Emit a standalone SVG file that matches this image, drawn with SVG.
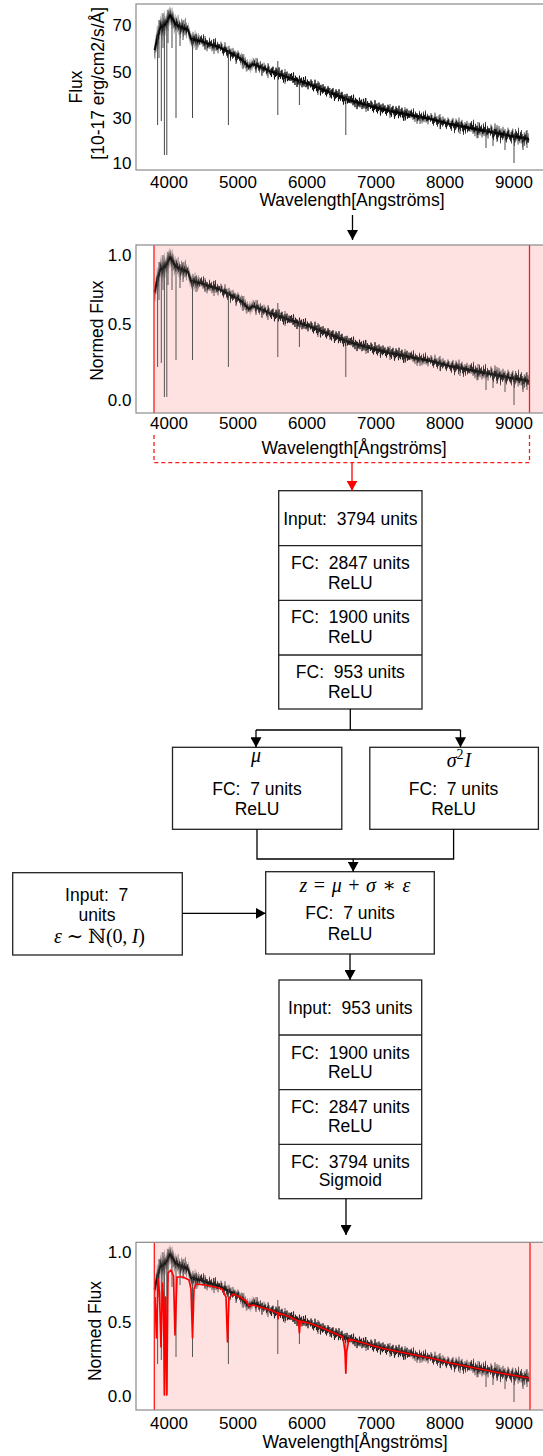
<svg xmlns="http://www.w3.org/2000/svg" xmlns:xlink="http://www.w3.org/1999/xlink" width="543" height="1456" viewBox="0 0 543 1456">
<style>
text{font-family:"Liberation Sans",Arial,sans-serif;fill:#000}
.tk{font-size:17px}
.ax{font-size:17.5px}
.bx{font-size:17.5px;text-anchor:middle}
.m{font-family:"Liberation Serif","DejaVu Serif",serif;font-size:20px;text-anchor:middle}
.i{font-style:italic}
.frame{fill:none;stroke:#8a8a8a;stroke-width:1.2}
.pink{fill:#fee2e2}
.rl{stroke:#ff1a1a;stroke-width:1.3}
.box{fill:#fff;stroke:#222;stroke-width:1.3}
.div{stroke:#222;stroke-width:1.3}
.con{fill:none;stroke:#000;stroke-width:1.3}
.core{fill:none;stroke:#111;stroke-width:1.8;stroke-linejoin:round}
.zz use{fill:none;stroke:#000;stroke-width:0.7;stroke-opacity:.9;vector-effect:non-scaling-stroke}
.ln{fill:none;stroke:#333;stroke-width:0.9}
.sp{fill:none;stroke:#222;stroke-width:0.8}
.red{fill:none;stroke:#ff0000;stroke-width:1.7;stroke-linejoin:round}
</style>
<defs>
<marker id="ah" viewBox="0 0 10 11" markerWidth="10" markerHeight="11" refX="10" refY="5.5" orient="auto" markerUnits="userSpaceOnUse"><path d="M0,0 L10,5.5 L0,11 z" fill="#000"/></marker>
<marker id="ahr" viewBox="0 0 10 11" markerWidth="10" markerHeight="11" refX="10" refY="5.5" orient="auto" markerUnits="userSpaceOnUse"><path d="M0,0 L10,5.5 L0,11 z" fill="#ff0000"/></marker>
<path id="sa" d="M0,0 0.5,3 1,-2 1.5,4 2,-3 2.5,1 3,-4 3.5,2 4,-1 4.5,5 5,-2 5.5,3 6,-4 6.5,2 7,-3 7.5,1 8,-2 8.5,4 9,-5 9.5,2 10,-1 10.5,3 11,-3 11.5,1 12,-4 12.5,3 13,-2 13.5,5 14,-1 14.5,2 15,-3 15.5,4 16,-2 16.5,1 17,-4 17.5,3 18,-1 18.5,2 19,-3 19.5,2 20,0"/>
<path id="sb" d="M0,0 0.5,-3 1,2 1.5,-4 2,1 2.5,-2 3,3 3.5,-5 4,2 4.5,-1 5,4 5.5,-3 6,1 6.5,-2 7,5 7.5,-2 8,3 8.5,-1 9,2 9.5,-4 10,3 10.5,-2 11,1 11.5,-3 12,4 12.5,-1 13,2 13.5,-4 14,3 14.5,-2 15,1 15.5,-5 16,3 16.5,-1 17,2 17.5,-3 18,4 18.5,-2 19,1 19.5,-2 20,0"/>
<path id="sc" d="M0,0 0.5,2 1,-4 1.5,1 2,-3 2.5,3 3,-1 3.5,4 4,-2 4.5,2 5,-5 5.5,1 6,-2 6.5,3 7,-3 7.5,4 8,-1 8.5,2 9,-4 9.5,1 10,-2 10.5,5 11,-3 11.5,2 12,-1 12.5,3 13,-4 13.5,2 14,-2 14.5,1 15,-3 15.5,3 16,-1 16.5,4 17,-2 17.5,2 18,-4 18.5,1 19,-3 19.5,2 20,0"/>
<path id="cont" d="M154.5,292 L160,270 L166,266 L170,257 L176,267 L188,272 L191,281 L200,283 L220,289.5 L240,300 L249,309 L253,306 L270,313 L290,320 L310,326.5 L330,334.4 L350,342.4 L370,348 L390,352.8 L410,357 L430,360.8 L450,366 L470,370 L490,373.8 L510,377.7 L529,381"/>
<path id="lines" d="M157.6,278 V367 M161.3,270 V363 M164.4,268 V397 M166.8,265 V397 M176,267 V360 M192.5,281 V360 M228.4,292 V367 M277.8,303 V357 M299.4,320 V347 M345.8,338 V377 M514,376 V405 M486,372 V390 M493,374 V388 M505,375 V392 M523,378 V392 M172,262 V290 M180,268 V288 M236,294 V306 M262,306 V318 M330,330 V340 M420,356 V366 M460,364 V376"/>
<path id="spikes" d="M205,278 V292 M214,281 V296 M243,296 V311 M256,300 V315 M268,305 V320 M285,311 V326 M318,323 V337 M366,340 V354 M390,346 V360 M405,349 V363 M440,356 V371 M478,364 V380 M497,367 V384 M527,372 V390 M159,262 V300 M163,255 V290 M168,252 V285 M183,262 V282 M196,276 V292"/>
<g id="spec">
<use xlink:href="#cont" class="core"/>
<g class="zz">
<use xlink:href="#sa" transform="matrix(0.275,-1.1,0,2.8,154.5,292)"/>
<use xlink:href="#sb" transform="matrix(0.3,-0.2,0,2.8,160,270)"/>
<use xlink:href="#sc" transform="matrix(0.2,-0.45,0,2.5,166,266)"/>
<use xlink:href="#sa" transform="matrix(0.3,0.5,0,2.4,170,257)"/>
<use xlink:href="#sb" transform="matrix(0.6,0.25,0,2.2,176,267)"/>
<use xlink:href="#sc" transform="matrix(0.15,0.45,0,1.9,188,272)"/>
<use xlink:href="#sa" transform="matrix(0.45,0.1,0,1.9,191,281)"/>
<use xlink:href="#sb" transform="matrix(1,0.325,0,1.6,200,283)"/>
<use xlink:href="#sc" transform="matrix(1,0.525,0,1.6,220,289.5)"/>
<use xlink:href="#sa" transform="matrix(0.45,0.45,0,1.6,240,300)"/>
<use xlink:href="#sb" transform="matrix(0.2,-0.15,0,1.5,249,309)"/>
<use xlink:href="#sc" transform="matrix(0.85,0.35,0,1.5,253,306)"/>
<use xlink:href="#sa" transform="matrix(1,0.35,0,1.35,270,313)"/>
<use xlink:href="#sb" transform="matrix(1,0.325,0,1.35,290,320)"/>
<use xlink:href="#sc" transform="matrix(1,0.395,0,1.35,310,326.5)"/>
<use xlink:href="#sa" transform="matrix(1,0.4,0,1.35,330,334.4)"/>
<use xlink:href="#sb" transform="matrix(1,0.28,0,1.35,350,342.4)"/>
<use xlink:href="#sc" transform="matrix(1,0.24,0,1.4,370,348)"/>
<use xlink:href="#sa" transform="matrix(1,0.21,0,1.4,390,352.8)"/>
<use xlink:href="#sb" transform="matrix(1,0.19,0,1.5,410,357)"/>
<use xlink:href="#sc" transform="matrix(1,0.26,0,1.5,430,360.8)"/>
<use xlink:href="#sa" transform="matrix(1,0.2,0,1.65,450,366)"/>
<use xlink:href="#sb" transform="matrix(1,0.19,0,1.8,470,370)"/>
<use xlink:href="#sc" transform="matrix(1,0.195,0,1.9,490,373.8)"/>
<use xlink:href="#sa" transform="matrix(0.95,0.165,0,1.9,510,377.7)"/>
</g>
<use xlink:href="#lines" class="ln"/>
<use xlink:href="#spikes" class="sp"/>
</g>
</defs>

<!-- Plot 1: raw flux -->
<g id="plot1">
<use xlink:href="#spec" transform="translate(0,-242)"/>
<rect class="frame" x="136" y="4" width="420" height="166"/>
<g class="tk" text-anchor="end">
<text x="131.5" y="31">70</text><text x="131.5" y="77.7">50</text><text x="131.5" y="123.7">30</text><text x="131.5" y="168.7">10</text>
</g>
<g class="tk" text-anchor="middle">
<text x="169" y="188">4000</text><text x="238" y="188">5000</text><text x="307" y="188">6000</text><text x="376" y="188">7000</text><text x="445" y="188">8000</text><text x="514" y="188">9000</text>
</g>
<text class="ax" x="352" y="206" text-anchor="middle">Wavelength[Angströms]</text>
<text class="ax" transform="translate(81.5,87) rotate(-90)" text-anchor="middle">Flux</text>
<text class="ax" transform="translate(104,83.3) rotate(-90)" text-anchor="middle">[10-17 erg/cm2/s/Å]</text>
</g>

<!-- Plot 2: normalised -->
<g id="plot2">
<rect class="pink" x="154" y="245" width="402" height="168"/>
<use xlink:href="#spec" opacity="0.9"/>
<line class="rl" x1="154" y1="245" x2="154" y2="413"/>
<line class="rl" x1="529.5" y1="245" x2="529.5" y2="413"/>
<rect class="frame" x="136" y="245" width="420" height="168"/>
<g class="tk" text-anchor="end">
<text x="131.5" y="261">1.0</text><text x="131.5" y="330.3">0.5</text><text x="131.5" y="406">0.0</text>
</g>
<g class="tk" text-anchor="middle">
<text x="169" y="429.3">4000</text><text x="238" y="429.3">5000</text><text x="307" y="429.3">6000</text><text x="376" y="429.3">7000</text><text x="445" y="429.3">8000</text><text x="514" y="429.3">9000</text>
</g>
<text class="ax" x="354" y="454.3" text-anchor="middle">Wavelength[Ångströms]</text>
<text class="ax" transform="translate(103,330.7) rotate(-90)" text-anchor="middle">Normed Flux</text>
</g>

<!-- Encoder -->
<g id="encoder">
<rect class="box" x="278.7" y="490.7" width="143.3" height="218.3"/>
<line class="div" x1="278.7" y1="545.7" x2="422" y2="545.7"/>
<line class="div" x1="278.7" y1="600.3" x2="422" y2="600.3"/>
<line class="div" x1="278.7" y1="655" x2="422" y2="655"/>
<text class="bx" x="350.3" y="524.5" xml:space="preserve">Input:  3794 units</text>
<text class="bx" x="350.3" y="568.9" xml:space="preserve">FC:  2847 units</text>
<text class="bx" x="350.3" y="588.9">ReLU</text>
<text class="bx" x="350.3" y="623.2" xml:space="preserve">FC:  1900 units</text>
<text class="bx" x="350.3" y="642.9">ReLU</text>
<text class="bx" x="350.3" y="677.9" xml:space="preserve">FC:  953 units</text>
<text class="bx" x="350.3" y="697.9">ReLU</text>
</g>

<g id="mu">
<rect class="box" x="172.5" y="747.3" width="169.3" height="82"/>
<text class="m i" x="256" y="762">μ</text>
<text class="bx" x="257" y="794.5" xml:space="preserve">FC:  7 units</text>
<text class="bx" x="257" y="815.2">ReLU</text>
</g>

<g id="sigma">
<rect class="box" x="369.8" y="747.3" width="168.6" height="82"/>
<text class="m" x="459" y="767"><tspan class="i">σ</tspan><tspan font-size="14" dy="-8">2</tspan><tspan class="i" dy="8" dx="1">I</tspan></text>
<text class="bx" x="453.6" y="794.5" xml:space="preserve">FC:  7 units</text>
<text class="bx" x="453.6" y="815.2">ReLU</text>
</g>

<g id="noise">
<rect class="box" x="12.7" y="872.7" width="169.6" height="82.3"/>
<text class="bx" x="96.7" y="901.2" xml:space="preserve">Input:  7</text>
<text class="bx" x="97" y="920.5">units</text>
<text class="m" x="99.5" y="943" textLength="91" lengthAdjust="spacing"><tspan class="i">ε</tspan> ∼ ℕ(0, <tspan class="i">I</tspan>)</text>
</g>

<g id="latent">
<rect class="box" x="265.7" y="871.7" width="168.6" height="82.3"/>
<text class="m" x="355" y="891.5" textLength="111" lengthAdjust="spacing"><tspan class="i">z</tspan> = <tspan class="i">μ</tspan> + <tspan class="i">σ</tspan> ∗ <tspan class="i">ε</tspan></text>
<text class="bx" x="350" y="918.9" xml:space="preserve">FC:  7 units</text>
<text class="bx" x="350" y="939.5">ReLU</text>
</g>

<!-- Decoder -->
<g id="decoder">
<rect class="box" x="279" y="980" width="142.7" height="218.7"/>
<line class="div" x1="279" y1="1035" x2="421.7" y2="1035"/>
<line class="div" x1="279" y1="1089.7" x2="421.7" y2="1089.7"/>
<line class="div" x1="279" y1="1144.3" x2="421.7" y2="1144.3"/>
<text class="bx" x="350.3" y="1013.5" xml:space="preserve">Input:  953 units</text>
<text class="bx" x="350.3" y="1058.9" xml:space="preserve">FC:  1900 units</text>
<text class="bx" x="350.3" y="1077.9">ReLU</text>
<text class="bx" x="350.3" y="1112.9" xml:space="preserve">FC:  2847 units</text>
<text class="bx" x="350.3" y="1132.2">ReLU</text>
<text class="bx" x="350.3" y="1167.9" xml:space="preserve">FC:  3794 units</text>
<text class="bx" x="350.3" y="1186">Sigmoid</text>
</g>

<!-- Plot 3: reconstruction -->
<g id="plot3">
<rect class="pink" x="154.3" y="1242.3" width="402" height="167.7"/>
<use xlink:href="#spec" transform="translate(0,997)" opacity="0.9"/>
<path class="red" transform="translate(0,997)" d="M155,300 L156.5,341 L158,282 L159.5,296 L161,350 L162.5,286 L163.5,300 L164.4,398 L165.5,300 L166.8,398 L168,276 L171,273 L173.5,279 L175,338 L177,280 L183,280 L189,283 L191,292 L192.5,341 L194,292 L196,287 L205,288 L215,290 L222,292 L226,300 L227.5,345 L229,301 L233,297 L240,300 L246,304 L249,309 L253,308 L260,310 L270,313 L277.5,316 L278,322 L278.5,316 L290,320 L298.5,324 L299.4,336 L300.3,324 L312,327 L322,331 L334,336 L343,340 L345,355 L345.8,376 L346.6,355 L349,342 L360,345 L381,351 L400,355 L415,358 L435,362 L450,366 L470,370 L485,373 L500,376 L512,378 L529,381"/>
<line class="rl" x1="154.3" y1="1242.3" x2="154.3" y2="1410"/>
<line class="rl" x1="530" y1="1242.3" x2="530" y2="1410"/>
<rect class="frame" x="136" y="1242.3" width="420" height="167.7"/>
<g class="tk" text-anchor="end">
<text x="131.5" y="1257.7">1.0</text><text x="131.5" y="1327.7">0.5</text><text x="131.5" y="1402">0.0</text>
</g>
<g class="tk" text-anchor="middle">
<text x="169" y="1429.3">4000</text><text x="238" y="1429.3">5000</text><text x="307" y="1429.3">6000</text><text x="376" y="1429.3">7000</text><text x="445" y="1429.3">8000</text><text x="514" y="1429.3">9000</text>
</g>
<text class="ax" x="355" y="1447.7" text-anchor="middle">Wavelength[Ångströms]</text>
<text class="ax" transform="translate(101,1331) rotate(-90)" text-anchor="middle">Normed Flux</text>
</g>

<!-- Connectors -->
<g id="connectors">
<path class="con" d="M352.5,215 V240" marker-end="url(#ah)"/>
<path d="M154,435 V462.7 H529.5 V435" fill="none" stroke="#ff1a1a" stroke-width="1.3" stroke-dasharray="4,3"/>
<path d="M352,462.7 V490.7" fill="none" stroke="#ff0000" stroke-width="1.3" marker-end="url(#ahr)"/>
<path class="con" d="M350.3,709 V730 M256,730 H460.5"/>
<path class="con" d="M256,730 V747.3" marker-end="url(#ah)"/>
<path class="con" d="M460.5,730 V747.3" marker-end="url(#ah)"/>
<path class="con" d="M257,829.3 V859 H453.6 V829.3"/>
<path class="con" d="M353.2,859 V871.7" marker-end="url(#ah)"/>
<path class="con" d="M182.3,913.3 H265.7" marker-end="url(#ah)"/>
<path class="con" d="M350,954 V980" marker-end="url(#ah)"/>
<path class="con" d="M346,1198.7 V1235" marker-end="url(#ah)"/>
</g>
</svg>
